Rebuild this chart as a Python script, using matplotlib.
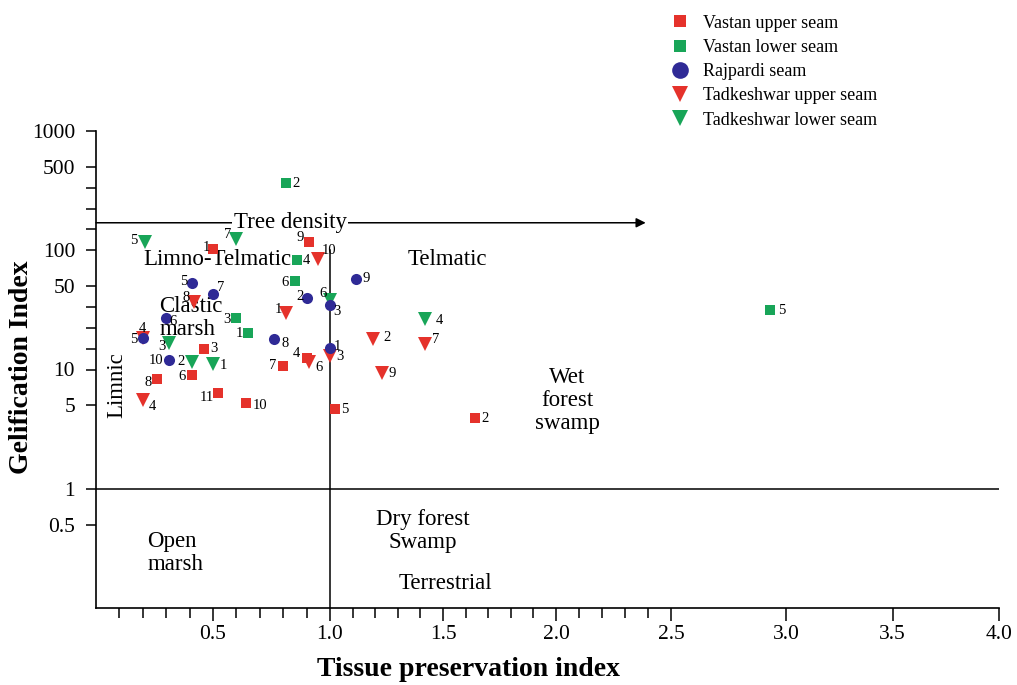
import numpy as np
import matplotlib
matplotlib.use("Agg")
import matplotlib.pyplot as plt
from matplotlib.ticker import FixedLocator, NullFormatter, FixedFormatter

plt.rcParams["font.family"] = ["Liberation Serif", "DejaVu Serif"]

# --------------------------------------------------
# Data: tissue preservation index (TPI) and gelification index (GI)
# --------------------------------------------------
vastan_upper_tpi = [0.50, 1.64, 0.46, 0.90, 1.02, 0.41, 0.80, 0.26, 0.91, 0.64, 0.52]
vastan_upper_gi = [102, 3.9, 14.9, 12.4, 4.7, 9.0, 10.7, 8.3, 117, 5.2, 6.3]
vastan_upper_ids = ["1", "2", "3", "4", "5", "6", "7", "8", "9", "10", "11"]

vastan_lower_tpi = [0.65, 0.81, 0.60, 0.86, 2.93, 0.85]
vastan_lower_gi = [20.2, 366, 27, 83, 31.5, 55]
vastan_lower_ids = ["1", "2", "3", "4", "5", "6"]

rajpardi_tpi = [1.00, 0.90, 1.00, 0.20, 0.41, 0.30, 0.50, 0.76, 1.115, 0.31]
rajpardi_gi = [15.2, 40, 34.8, 18.4, 53, 27, 43, 18, 57, 12]
rajpardi_ids = ["1", "2", "3", "4", "5", "6", "7", "8", "9", "10"]

tadk_upper_tpi = [0.81, 1.19, 1.00, 0.20, 0.20, 0.91, 1.42, 0.42, 1.23, 0.95]
tadk_upper_gi = [29.8, 18, 12.9, 5.55, 18.4, 11.6, 16.4, 36.8, 9.35, 84]
tadk_upper_ids = ["1", "2", "3", "4", "5", "6", "7", "8", "9", "10"]

tadk_lower_tpi = [0.50, 0.41, 0.31, 1.42, 0.21, 1.00, 0.60]
tadk_lower_gi = [11.1, 11.6, 16.7, 26.5, 117, 38, 124]
tadk_lower_ids = ["1", "2", "3", "4", "5", "6", "7"]

# --------------------------------------------------
# Label offsets (pixels) for the sample numbers
# --------------------------------------------------
vastan_upper_off = [(-7, 2), (10, 0), (10, 0), (-10, 5), (10, -1), (-10, -2),
                    (-11, 0), (-9, -3), (-9, 5), (14, -2), (-11, -4)]
vastan_lower_off = [(-9, 0), (10, 0), (-9, -1), (9, -1), (12, 0), (-10, -1)]
rajpardi_off = [(7, 1), (-7, 1), (7, -7), (0, 9), (-8, 2), (7, -3),
                (8, 6), (11, -4), (10, 1), (-13, 0)]
tadk_upper_off = [(-7, 3), (14, 2), (10, 0), (10, -7), (-9, -2), (10, -6),
                  (11, 4), (-8, 5), (10, -1), (11, 9)]
tadk_lower_off = [(10, -1), (-11, 0), (-7, -4), (14, -1), (-11, 2), (-7, 7), (-9, 5)]

red = "#e5322b"
green = "#18a558"
blue = "#2f2a96"

# the original x axis is drawn by hand and is not quite uniform,
# so the scale is piecewise linear between the labelled values
x_anchor = [-1, 0, 1, 2, 3, 4, 5]
x_pos = [-234, 0, 234, 460, 690, 903, 1116]


def x_forward(x):
    return np.interp(x, x_anchor, x_pos)


def x_inverse(p):
    return np.interp(p, x_pos, x_anchor)


# --------------------------------------------------
# Figure
# --------------------------------------------------
fig = plt.figure(figsize=(10.17, 6.85), dpi=100)
ax = fig.add_axes([96 / 1017, 1 - 608 / 685, 903 / 1017, 477 / 685])

ax.set_xscale("function", functions=(x_forward, x_inverse))
ax.set_yscale("log")
ax.set_xlim(0, 4.0)
ax.set_ylim(0.1, 1000)

# field boundaries
ax.plot([0, 4.0], [1, 1], color="black", lw=1.1, zorder=1)
ax.plot([1.0, 1.0], [0.1, 100], color="black", lw=1.1, zorder=1)
ax.annotate("", xy=(2.39, 170), xytext=(0, 170),
            arrowprops=dict(arrowstyle="-|>", color="black", lw=1.1,
                            mutation_scale=14, shrinkA=0, shrinkB=0), zorder=1)
ax.text(0.83, 170, "Tree density", fontsize=16.5, ha="center", va="center",
        bbox=dict(facecolor="white", edgecolor="none", pad=1), zorder=2)

# field names
region_kw = dict(fontsize=16.5, va="center", linespacing=1.15, zorder=2)
ax.text(0.52, 84, "Limno-Telmatic", ha="center", **region_kw)
ax.text(0.27, 27, "Clastic\nmarsh", ha="left", **region_kw)
ax.text(0.09, 7.4, "Limnic", rotation=90, ha="center", **region_kw)
ax.text(1.52, 84, "Telmatic", ha="center", **region_kw)
ax.text(2.05, 5.5, "Wet\nforest\nswamp", ha="center", multialignment="center", **region_kw)
ax.text(0.22, 0.29, "Open\nmarsh", ha="left", **region_kw)
ax.text(1.41, 0.44, "Dry forest\nSwamp", ha="center", multialignment="center", **region_kw)
ax.text(1.51, 0.159, "Terrestrial", ha="center", **region_kw)

series = [
    (vastan_upper_tpi, vastan_upper_gi, vastan_upper_ids, vastan_upper_off, "s", red, 7, "Vastan upper seam"),
    (vastan_lower_tpi, vastan_lower_gi, vastan_lower_ids, vastan_lower_off, "s", green, 7, "Vastan lower seam"),
    (tadk_upper_tpi, tadk_upper_gi, tadk_upper_ids, tadk_upper_off, "v", red, 10, "Tadkeshwar upper seam"),
    (tadk_lower_tpi, tadk_lower_gi, tadk_lower_ids, tadk_lower_off, "v", green, 10, "Tadkeshwar lower seam"),
    (rajpardi_tpi, rajpardi_gi, rajpardi_ids, rajpardi_off, "o", blue, 8, "Rajpardi seam"),
]

for tpi, gi, ids, offs, mk, col, ms, name in series:
    ax.plot(tpi, gi, linestyle="none", marker=mk, color=col, markersize=ms,
            markeredgewidth=0, zorder=3)
    for x, y, lab, (dx, dy) in zip(tpi, gi, ids, offs):
        ax.annotate(lab, (x, y), xytext=(dx, dy), textcoords="offset pixels",
                    fontsize=10.5, ha="center", va="center", zorder=4)

# --------------------------------------------------
# Axes styling
# --------------------------------------------------
for side in ["top", "right"]:
    ax.spines[side].set_visible(False)
for side in ["left", "bottom"]:
    ax.spines[side].set_linewidth(1.2)

yticks = [0.5, 1, 5, 10, 50, 100, 500, 1000]
ytick_labels = ["0.5", "1", "5", "10", "50", "100", "500", "1000"]
ax.yaxis.set_major_locator(FixedLocator(yticks))
ax.yaxis.set_major_formatter(FixedFormatter(ytick_labels))
ymin = [10 ** (2 + k * np.log10(5) / 4) for k in range(1, 4)]
ymin += [10 ** (1 + k * np.log10(5) / 4) for k in range(1, 4)]
ax.yaxis.set_minor_locator(FixedLocator(ymin))
ax.yaxis.set_minor_formatter(NullFormatter())

xticks = [0.5, 1.0, 1.5, 2.0, 2.5, 3.0, 3.5, 4.0]
ax.xaxis.set_major_locator(FixedLocator(xticks))
ax.xaxis.set_major_formatter(FixedFormatter(["0.5", "1.0", "1.5", "2.0", "2.5", "3.0", "3.5", "4.0"]))
xmin = [round(0.1 * i, 1) for i in range(0, 25) if i % 5 != 0]
ax.xaxis.set_minor_locator(FixedLocator(xmin))
ax.xaxis.set_minor_formatter(NullFormatter())

ax.tick_params(axis="both", which="major", labelsize=15.5, width=1.1, direction="out")
ax.tick_params(axis="y", which="both", length=7, width=1.1)
ax.tick_params(axis="y", which="major", pad=8)
ax.tick_params(axis="x", which="major", length=9.5, pad=3)
ax.tick_params(axis="x", which="minor", length=7.5, width=1.1)

fig.text(22 / 1017, 1 - 367 / 685, "Gelification Index", rotation=90,
         fontsize=20, fontweight="bold", ha="center", va="center")
fig.text(468 / 1017, 1 - 670 / 685, "Tissue preservation index",
         fontsize=20, fontweight="bold", ha="center", va="center")

# --------------------------------------------------
# Legend (upper right, outside the axes)
# --------------------------------------------------
legend_order = [0, 1, 4, 2, 3]
handles = []
for i in legend_order:
    tpi, gi, ids, offs, mk, col, ms, name = series[i]
    lms = {"s": 8, "o": 12, "v": 12}[mk]
    h, = ax.plot([], [], linestyle="none", marker=mk, color=col,
                 markersize=lms, markeredgewidth=0, label=name)
    handles.append(h)

fig.legend(handles=handles, loc="upper left", bbox_to_anchor=(658 / 1017, 1 - 2 / 685),
           frameon=False, fontsize=13, handlelength=1.0, handletextpad=0.8,
           labelspacing=0.4, borderpad=0.2)

fig.savefig("out.png", dpi=100)
